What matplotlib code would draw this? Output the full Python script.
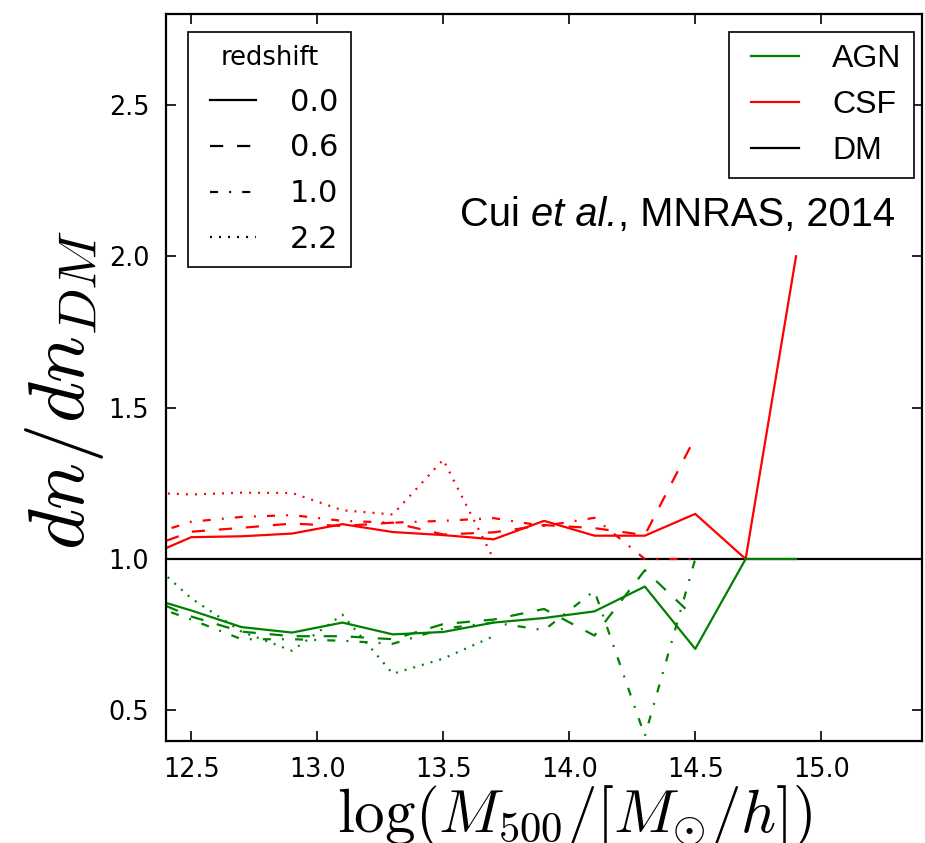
import numpy as np
import matplotlib
matplotlib.use('Agg')
import matplotlib.pyplot as plt
from matplotlib.lines import Line2D

plt.rcParams['mathtext.fontset'] = 'cm'
plt.rcParams['font.family'] = 'DejaVu Sans'
plt.rcParams['lines.scale_dashes'] = False

nan = np.nan
# log(M500) bin centres
MASS = [12.3, 12.5, 12.7, 12.9, 13.1, 13.3, 13.5, 13.7, 13.9, 14.1, 14.3, 14.5, 14.7, 14.9]
REDSHIFTS = ['0.0', '0.6', '1.0', '2.2']

# CSF / DM ratio per redshift
csf_z00 = [1.00, 1.072, 1.075, 1.084, 1.115, 1.089, 1.079, 1.065, 1.126, 1.077, 1.077, 1.149, 1.0, 2.0]
csf_z06 = [1.03, 1.090, 1.103, 1.117, 1.109, 1.120, 1.081, 1.088, 1.112, 1.102, 1.079, 1.402, nan, nan]
csf_z10 = [1.07, 1.123, 1.139, 1.145, 1.126, 1.120, 1.126, 1.135, 1.109, 1.136, 1.0, 1.0, nan, nan]
csf_z22 = [1.22, 1.213, 1.219, 1.218, 1.161, 1.147, 1.328, 1.0, nan, nan, nan, nan, nan, nan]

# AGN / DM ratio per redshift
agn_z00 = [0.88, 0.830, 0.775, 0.757, 0.790, 0.751, 0.759, 0.790, 0.805, 0.827, 0.909, 0.703, 1.0, 1.0]
agn_z06 = [0.88, 0.810, 0.760, 0.745, 0.745, 0.735, 0.785, 0.800, 0.835, 0.747, 0.963, 0.805, nan, nan]
agn_z10 = [0.86, 0.800, 0.735, 0.735, 0.730, 0.720, 0.770, 0.790, 0.765, 0.895, 0.415, 1.0, nan, nan]
agn_z22 = [1.02, 0.870, 0.760, 0.697, 0.816, 0.621, 0.671, 0.745, nan, nan, nan, nan, nan, nan]

DM_LEVEL = 1.0

# line styles for the redshifts (dash patterns in points)
STYLES = [dict(linestyle='-'),
          dict(dashes=(9.5, 10)),
          dict(dashes=(5.8, 8, 1.4, 8)),
          dict(dashes=(1.4, 5.1))]

fig = plt.figure(figsize=(9.25, 8.43), dpi=100)
ax = fig.add_axes([0.1795, 0.1214, 0.8173, 0.862])

LW = 1.6
ax.axhline(DM_LEVEL, color='k', lw=LW, zorder=1)
for ys, st in zip([csf_z00, csf_z06, csf_z10, csf_z22], STYLES):
    ax.plot(MASS, ys, color='red', lw=LW, zorder=2, **st)
for ys, st in zip([agn_z00, agn_z06, agn_z10, agn_z22], STYLES):
    ax.plot(MASS, ys, color='green', lw=LW, zorder=2, **st)

ax.set_xlim(12.4, 15.4)
ax.set_ylim(0.4, 2.8)
ax.set_xticks([12.5, 13.0, 13.5, 14.0, 14.5, 15.0])
ax.set_yticks([0.5, 1.0, 1.5, 2.0, 2.5])
ax.set_xticklabels([f'{v:.1f}' for v in ax.get_xticks()])
ax.set_yticklabels([f'{v:.1f}' for v in ax.get_yticks()])
ax.tick_params(direction='in', top=True, right=True, length=7, width=1.2,
               labelsize=18.4, pad=12)
for sp in ax.spines.values():
    sp.set_linewidth(1.6)

ax.set_xlabel(r'$\log(M_{500}/[M_{\odot}/h])$', fontsize=44)
ax.xaxis.set_label_coords(0.541, -0.0585)
ax.set_ylabel(r'$dn/dn_{DM}$', fontsize=56.5)
ax.yaxis.set_label_coords(-0.080, 0.4826)

# redshift legend (line styles); numpoints=2 insets the handle lines
z_handles = [Line2D([], [], color='k', lw=LW, **st) for st in STYLES]
leg1 = ax.legend(z_handles, REDSHIFTS, title='redshift', loc='upper left',
                 bbox_to_anchor=(0.0291, 0.9752), borderaxespad=0, numpoints=2,
                 fontsize=22, title_fontsize=18.5,
                 fancybox=False, edgecolor='k', framealpha=1, handlelength=2.1,
                 handletextpad=0.81, labelspacing=0.55, borderpad=0.42)
leg1.get_frame().set_linewidth(1.2)
ax.add_artist(leg1)

# model legend (colours)
m_handles = [Line2D([], [], color=c, lw=LW) for c in ['green', 'red', 'k']]
leg2 = ax.legend(m_handles, ['AGN', 'CSF', 'DM'], loc='upper left',
                 bbox_to_anchor=(0.7447, 0.9752), borderaxespad=0, numpoints=2,
                 fancybox=False, edgecolor='k',
                 framealpha=1, handlelength=2.1, handletextpad=0.75,
                 labelspacing=0.5, borderpad=0.38,
                 prop={'family': 'Liberation Sans', 'size': 23})
leg2.get_frame().set_linewidth(1.2)

# citation, with the italic "et al."
t1 = ax.text(0.389, 0.723, 'Cui ', transform=ax.transAxes, fontsize=28.7,
             family='Liberation Sans', ha='left', va='center')
t2 = ax.annotate('et al.', xy=(1, 0), xycoords=t1, fontsize=28.7, style='italic',
                 family='Liberation Sans', ha='left', va='bottom')
ax.annotate(', MNRAS, 2014', xy=(1, 0), xycoords=t2, fontsize=28.7,
            family='Liberation Sans', ha='left', va='bottom')

fig.savefig('out.png', dpi=100)
